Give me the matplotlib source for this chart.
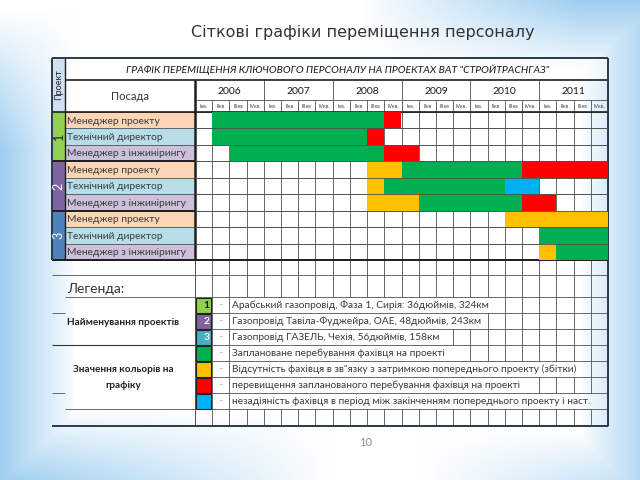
import numpy as np
import matplotlib
matplotlib.use('Agg')
import matplotlib.pyplot as plt
from matplotlib.patches import Rectangle

# ---------------- data ----------------
title = "Сіткові графіки переміщення персоналу"
table_title = 'ГРАФІК ПЕРЕМІЩЕННЯ КЛЮЧОВОГО ПЕРСОНАЛУ НА ПРОЕКТАХ ВАТ "СТРОЙТРАСНГАЗ"'
years = ['2006', '2007', '2008', '2009', '2010', '2011']
quarters = ['Ікв.', 'ІІкв', 'ІІІкв', 'IVкв.']
projects = ['1', '2', '3']
positions = ['Менеджер проекту', 'Технічний директор', 'Менеджер з інжинірингу']

# (row, start quarter, end quarter, status) ; quarter 0 = I кв. 2006
seg_rows = [0, 0, 1, 1, 2, 2, 3, 3, 3, 4, 4, 4, 5, 5, 5, 6, 7, 8, 8]
seg_start = [1, 11, 1, 10, 2, 11, 10, 12, 19, 10, 11, 18, 10, 13, 19, 18, 20, 20, 21]
seg_end = [11, 12, 10, 11, 11, 13, 12, 19, 24, 11, 18, 20, 13, 19, 21, 24, 24, 21, 24]
seg_status = ['plan', 'over', 'plan', 'over', 'plan', 'over',
              'delay', 'plan', 'over', 'delay', 'plan', 'idle',
              'delay', 'plan', 'over', 'delay', 'plan', 'delay', 'plan']

status_colors = {'plan': '#00B050', 'delay': '#FFC000', 'over': '#FF0000', 'idle': '#00B0F0'}
project_colors = ['#92D050', '#8064A2', '#4F81BD']
project_text_colors = ['#1a1a1a', 'white', 'white']
legend_project_colors = ['#92D050', '#8064A2', '#4BACC6']
position_colors = ['#FCD5B4', '#B7DEE8', '#CCC0DA']

legend_project_texts = ['Арабський газопровід, Фаза 1, Сирія: 36дюймів, 324км',
                        'Газопровід Тавіла-Фуджейра, ОАЕ, 48дюймів, 243км',
                        'Газопровід ГАЗЕЛЬ, Чехія, 56дюймів, 158км']
legend_status_keys = ['plan', 'delay', 'over', 'idle']
legend_status_texts = ['Заплановане перебування фахівця на проекті',
                       'Відсутність фахівця в зв"язку з затримкою попереднього проекту (збітки)',
                       'перевищення запланованого перебування фахівця на проекті',
                       'незадіяність фахівця в період між закінченням попереднього проекту і наст.']
# quarter index where grid lines resume after each legend text
legend_grid_resume = [18, 17, 15, 16, 23, 20, 24]

# ---------------- layout ----------------
W, H = 640, 480
X0, XP, XC, XR = 52, 65, 195, 608
NQ = 24
QW = (XR - XC) / NQ
Y0, YT, YY, YQ, YD = 58, 80, 100, 112, 260
RH = (YD - YQ) / 9
YE, YL = 275, 297
LH = 16
YB = YL + 7 * LH + 17

FONT = ['Lato', 'DejaVu Sans']
grid_c = '#505050'
dark = '#1e1e1e'

fig = plt.figure(figsize=(6.4, 4.8), dpi=100)
bg = fig.add_axes([0, 0, 1, 1])
bg.set_xlim(0, W)
bg.set_ylim(H, 0)
bg.axis('off')

# slide gradient background (blue at edges, white in the middle)
yy, xx = np.mgrid[0:H, 0:W].astype(float)
left = np.clip(1 - xx / 75, 0, 1) * np.clip((yy - 10) / 140, 0, 1)
top = np.clip(1 - yy / 70, 0, 1) * np.clip((xx - 360) / 220, 0, 1)
right = np.clip(1 - (W - xx) / 60, 0, 1) * 0.75
bottom = np.clip(1 - (H - yy) / 70, 0, 1) * np.clip(1 - xx / 330, 0, 1) \
    + np.clip(1 - (H - yy) / 50, 0, 1) * np.clip((xx - 420) / 220, 0, 1) * 0.6
t = np.clip(np.maximum.reduce([left, top, right, bottom]), 0, 1) ** 0.9
blue = np.array([0.62, 0.81, 0.94])
img = (1 - t[..., None]) * np.ones(3) + t[..., None] * blue
bg.imshow(img, extent=(0, W, H, 0), aspect='auto', zorder=0, interpolation='bilinear')

def hl(y, x1, x2, c=grid_c, lw=0.6, z=2):
    bg.plot([x1, x2], [y, y], color=c, lw=lw, zorder=z, solid_capstyle='butt')

def vl(x, y1, y2, c=grid_c, lw=0.6, z=2):
    bg.plot([x, x], [y1, y2], color=c, lw=lw, zorder=z, solid_capstyle='butt')

qx = [XC + QW * k for k in range(NQ + 1)]

# header fills
bg.add_patch(Rectangle((X0, Y0), XP - X0, YQ - Y0, facecolor='#CFE0F3', edgecolor='none', zorder=1))
bg.add_patch(Rectangle((XP, Y0), XR - XP, YT - Y0, facecolor='white', alpha=0.6, edgecolor='none', zorder=1))
bg.add_patch(Rectangle((XP, YT), XC - XP, YQ - YT, facecolor='white', alpha=0.7, edgecolor='none', zorder=1))

# project and position cells
for p in range(3):
    bg.add_patch(Rectangle((X0, YQ + 3 * p * RH), XP - X0, 3 * RH,
                           facecolor=project_colors[p], edgecolor='none', zorder=1))
    bg.text((X0 + XP) / 2, YQ + (3 * p + 1.5) * RH, projects[p], rotation=90,
            ha='center', va='center', fontsize=9, color=project_text_colors[p],
            family=FONT, zorder=4)
    for r in range(3):
        row = 3 * p + r
        bg.add_patch(Rectangle((XP, YQ + row * RH), XC - XP, RH,
                               facecolor=position_colors[r], edgecolor='none', zorder=1))
        bg.text(XP + 2, YQ + (row + 0.55) * RH, positions[r], ha='left', va='center',
                fontsize=7.4, color='#3a3a3a', family=FONT, zorder=4)

# grid: chart area
for k in range(NQ + 1):
    vl(qx[k], YY, YL)
    vl(qx[k], YL + 7 * LH, YB)
for k in range(0, NQ + 1, 4):
    vl(qx[k], YT, YY)
for i in range(10):
    hl(YQ + i * RH, XP, XR)
hl(YY, XC, XR)
hl(YE, XC, XR)
hl(YL, X0 + 13, XR)
for i in range(1, 8):
    hl(YL + i * LH, XC, XR)
hl(YL + 7 * LH, X0 + 13, XC)

# legend rows vertical lines
for i in range(7):
    y1, y2 = YL + i * LH, YL + (i + 1) * LH
    for k in range(3):
        vl(qx[k], y1, y2)
    for k in range(legend_grid_resume[i], NQ + 1):
        vl(qx[k], y1, y2)

# left bottom lines
hl(YE, X0, XC)
hl(YL + 3 * LH, X0, XC, c='#333333', lw=0.8)
hl(YL + 1 * LH, X0, X0 + 13)
hl(YL + 6 * LH, X0, X0 + 13)
vl(XC, YD, YB)

# strong lines
vl(XP, Y0, YD, c=dark, lw=1.0)
vl(XC, YT, YD, c=dark, lw=1.8, z=3)
hl(YT, XP, XR, c=dark, lw=1.2)
hl(YQ, X0, XR, c=dark, lw=1.2, z=3)
hl(YQ + 3 * RH, X0, XC, c=dark, lw=1.4, z=3)
hl(YQ + 6 * RH, X0, XC, c=dark, lw=1.4, z=3)
hl(YD, X0, XR, c=dark, lw=1.4, z=3)
# outer border
hl(Y0, X0, XR, c='#2a3a4a', lw=1.4, z=3)
vl(X0, Y0, YD, c='#2a3a4a', lw=1.4, z=3)
vl(XR, Y0, YB, c='#2a3a4a', lw=1.4, z=3)
hl(YB, X0, XR, c='#2a3a4a', lw=1.4, z=3)

# header texts
bg.text((X0 + XP) / 2, (Y0 + YQ) / 2, 'Проект', rotation=90, ha='center', va='center',
        fontsize=6.5, color='#222222', family=FONT, zorder=4)
bg.text(338, (Y0 + YT) / 2 + 1, table_title, ha='center', va='center', fontsize=7.5,
        style='italic', color='#1a1a1a', family=FONT, zorder=4)
bg.text((XP + XC) / 2, (YT + YQ) / 2, 'Посада', ha='center', va='center',
        fontsize=8, color='#333333', family=FONT, zorder=4)
for i, yr in enumerate(years):
    bg.text((qx[4 * i] + qx[4 * i + 4]) / 2, (YT + YY) / 2 + 1, yr, ha='center', va='center',
            fontsize=7.5, color='#1a1a1a', family=FONT, zorder=4)
    for j, q in enumerate(quarters):
        k = 4 * i + j
        bg.text((qx[k] + qx[k + 1]) / 2, (YY + YQ) / 2, q, ha='center', va='center',
                fontsize=3.8, color='#444444', family=FONT, zorder=4)

# gantt bars
gx = fig.add_axes([XC / W, 1 - YD / H, (XR - XC) / W, (YD - YQ) / H])
gx.set_xlim(0, NQ)
gx.set_ylim(9, 0)
gx.axis('off')
gx.patch.set_alpha(0)
gx.barh([r + 0.5 for r in seg_rows], [e - s for s, e in zip(seg_start, seg_end)],
        left=seg_start, height=1.0, color=[status_colors[s] for s in seg_status],
        edgecolor='none', zorder=2)
gx.hlines(range(1, 9), 0, NQ, colors=grid_c, lw=0.6, zorder=3)

# legend
bg.text(X0 + 15, YE + 14, 'Легенда:', ha='left', va='center', fontsize=10,
        color='#333333', family=FONT, zorder=4)
bg.text((X0 + XC) / 2, YL + 1.6 * LH, 'Найменування проектів', ha='center', va='center',
        fontsize=7.2, weight='bold', color='#222222', family=FONT, zorder=4)
bg.text((X0 + XC) / 2, YL + 4.5 * LH, 'Значення кольорів на', ha='center', va='center',
        fontsize=7.2, weight='bold', color='#222222', family=FONT, zorder=4)
bg.text((X0 + XC) / 2, YL + 5.5 * LH, 'графіку', ha='center', va='center',
        fontsize=7.2, weight='bold', color='#222222', family=FONT, zorder=4)

legend_colors = legend_project_colors + [status_colors[k] for k in legend_status_keys]
legend_texts = legend_project_texts + legend_status_texts
for i in range(7):
    y = YL + i * LH
    bg.add_patch(Rectangle((qx[0] + 1, y + 0.5), QW - 2, LH - 1, facecolor=legend_colors[i],
                           edgecolor='#222222', lw=0.8, zorder=3))
    if i < 3:
        bg.text(qx[1] - 2.5, y + LH / 2, projects[i], ha='right', va='center', fontsize=7.5,
                weight='bold', color=project_text_colors[i], family=FONT, zorder=4)
    bg.text((qx[1] + qx[2]) / 2, y + LH / 2, '·', ha='center', va='center', fontsize=6,
            color='#777777', family=FONT, zorder=4)
    bg.text(qx[2] + 3, y + LH / 2 + 0.5, legend_texts[i], ha='left', va='center',
            fontsize=7.3, color='#3a3a3a', family=FONT, zorder=4)

# slide title and page number
bg.text(363, 32, title, ha='center', va='center', fontsize=11.5, color='#333333',
        family=['DejaVu Sans'], zorder=4)
bg.text(366, 443, '10', ha='center', va='center', fontsize=8, color='#8a8a8a',
        family=FONT, zorder=4)

fig.savefig('out.png', dpi=100)
